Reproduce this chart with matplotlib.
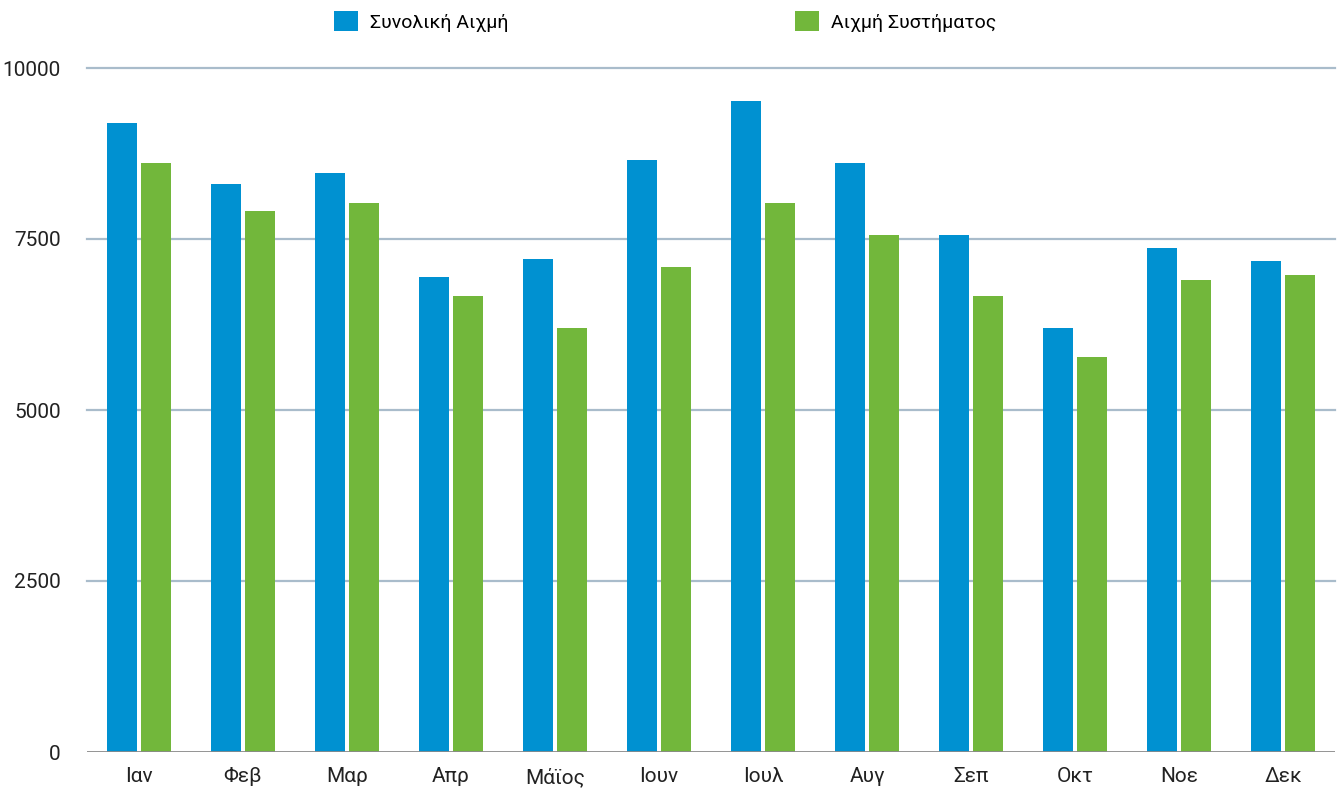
import numpy as np
import matplotlib.pyplot as plt

# Μηνιαίες τιμές αιχμής
months = ["Ιαν", "Φεβ", "Μαρ", "Απρ", "Μάϊος", "Ιουν",
          "Ιουλ", "Αυγ", "Σεπ", "Οκτ", "Νοε", "Δεκ"]
total_peak = [9200, 8300, 8460, 6940, 7210, 8650,
              9520, 8610, 7560, 6200, 7370, 7180]
system_peak = [8610, 7910, 8030, 6670, 6200, 7090,
               8030, 7560, 6670, 5780, 6900, 6970]
yticks = [0, 2500, 5000, 7500, 10000]

BLUE = "#0091d1"
GREEN = "#72b73b"
FONT = ["Roboto", "DejaVu Sans"]

plt.rcParams["font.family"] = FONT

fig = plt.figure(figsize=(13.38, 7.89), dpi=100)
ax = fig.add_axes([87 / 1338, 37 / 789, 1248 / 1338, 684 / 789])

x = np.arange(len(months))
w = 0.288
b1 = ax.bar(x - 0.163, total_peak, w, color=BLUE, zorder=3)
b2 = ax.bar(x + 0.163, system_peak, w, color=GREEN, zorder=3)

ax.set_xlim(-0.5, len(months) - 0.5)
ax.set_ylim(0, 10000)
ax.set_yticks(yticks)
ax.set_yticklabels([str(t) for t in yticks], fontsize=15, color="#222222")
ax.set_xticks(x)
ax.set_xticklabels(months, fontsize=15, color="#222222")
ax.tick_params(axis="y", length=0, pad=19)
ax.tick_params(axis="x", length=0, pad=11)

for t in yticks[1:]:
    ax.axhline(t, color="#a9bccb", lw=1.6, zorder=1, clip_on=False)
ax.axhline(0, color="#8a8a8a", lw=2, zorder=4)

for s in ax.spines.values():
    s.set_visible(False)

# υπόμνημα: δύο ξεχωριστές καταχωρήσεις στην κορυφή
for handle, label, xpos in [(b1, "Συνολική Αιχμή", 328 / 1338),
                            (b2, "Αιχμή Συστήματος", 789 / 1338)]:
    fig.legend([handle], [label], loc="upper left",
               bbox_to_anchor=(xpos, 1.0 - 5 / 789), frameon=False,
               fontsize=14, handlelength=1.25, handleheight=1.25,
               handletextpad=0.6, borderaxespad=0, borderpad=0.3)

fig.savefig("out.png", dpi=100)
